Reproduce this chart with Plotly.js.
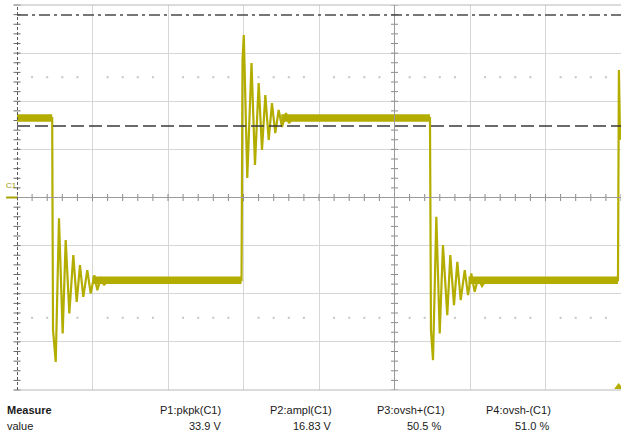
<!DOCTYPE html>
<html>
<head>
<meta charset="utf-8">
<script src="https://cdn.plot.ly/plotly-3.0.1.min.js"></script>
<style>html,body{margin:0;padding:0;background:#fff;}#chart{width:621px;height:434px;}</style>
</head>
<body>
<div id="chart"></div>
<script>
// ---- Data (time in divisions, voltage in V; 5 V/div) ----
const traceTime = [0, 0.466, 0.477, 0.513, 0.556, 0.605, 0.645, 0.693, 0.746, 0.791, 0.834, 0.878, 0.931, 0.976, 1.024, 1.064, 1.113, 1.152, 1.205,
  2.974, 2.987, 3.004, 3.050, 3.106, 3.152, 3.201, 3.245, 3.289, 3.334, 3.377, 3.421, 3.466, 3.510, 3.563, 3.603, 3.656,
  5.470, 5.483, 5.510, 5.554, 5.599, 5.642, 5.699, 5.739, 5.788, 5.832, 5.877, 5.930, 5.974, 6.017, 6.062, 6.106, 6.159, 6.212,
  7.960, 7.972, 7.988];
const traceVolts = [8.25, 8.25, -13.78, -17.08, -2.17, -14.13, -4.43, -12.05, -5.99, -10.84, -7.03, -10.32, -7.55, -9.97, -8.07, -9.63, -8.27, -9.11, -8.59,
  -8.59, 14.28, 16.88, 2.02, 13.97, 3.37, 11.89, 4.93, 10.64, 5.97, 9.81, 6.69, 9.09, 7.32, 8.77, 7.73, 8.25,
  8.25, -13.78, -16.90, -2.01, -14.13, -4.95, -12.22, -5.99, -11.19, -6.68, -10.67, -7.55, -10.15, -7.89, -9.80, -8.38, -9.21, -8.59,
  -8.59, 13.24, 6.0];
// steady (noisy) level bands
const bandStart = [0, 1.00, 3.50, 5.98];
const bandEnd = [0.466, 2.974, 5.470, 7.960];
const bandLevel = [8.25, -8.59, 8.25, -8.59];
// cursors
const cursorDashed = 7.42;
const cursorDashDot = 18.96;
// measurement table
const measHeaders = ["P1:pkpk(C1)", "P2:ampl(C1)", "P3:ovsh+(C1)", "P4:ovsh-(C1)"];
const measValues = ["33.9 V", "16.83 V", "50.5 %", "51.0 %"];

const olive = '#b3ad00';
const traces = [];

// minor ticks on center lines (decoration)
const hx = [], hy = [];
for (let i = 0; i <= 40; i++) { hx.push(i * 0.2); hy.push(0); }
traces.push({x: hx, y: hy, mode: 'markers', hoverinfo: 'skip',
  marker: {symbol: 'line-ns-open', size: 5, color: '#8a8a8a', line: {color: '#8a8a8a', width: 1}}});
const vx = [], vy = [];
for (let i = -20; i <= 20; i++) { vx.push(5); vy.push(i); }
traces.push({x: vx, y: vy, mode: 'markers', hoverinfo: 'skip',
  marker: {symbol: 'line-ew-open', size: 5, color: '#8a8a8a', line: {color: '#8a8a8a', width: 1}}});
const lx = [], ly = [];
for (let i = -20; i <= 20; i++) { lx.push(0); ly.push(i); }
traces.push({x: lx, y: ly, mode: 'markers', hoverinfo: 'skip', cliponaxis: false,
  marker: {symbol: 'line-ew-open', size: 5, color: '#6a6a6a', line: {color: '#6a6a6a', width: 1}}});
// dotted guide rows at +/-2.5 div
const dx = [], dy = [];
for (let i = 1; i < 40; i++) { if (i % 5) { dx.push(i * 0.2); dy.push(12.5); dx.push(i * 0.2); dy.push(-12.5); } }
traces.push({x: dx, y: dy, mode: 'markers', hoverinfo: 'skip',
  marker: {symbol: 'square', size: 2, color: '#c4c4c4'}});

// noisy bands
for (let i = 0; i < bandStart.length; i++) {
  traces.push({x: [bandStart[i], bandEnd[i]], y: [bandLevel[i], bandLevel[i]], mode: 'lines',
    line: {color: olive, width: 7.5}, hoverinfo: 'skip'});
}
// waveform
traces.push({x: traceTime, y: traceVolts, mode: 'lines', line: {color: olive, width: 2.2}, hoverinfo: 'skip'});
// trigger marker
traces.push({x: [7.97], y: [-19.7], mode: 'markers', cliponaxis: false, hoverinfo: 'skip',
  marker: {symbol: 'triangle-up', size: 8, color: olive}});

const annotations = [];
const hdrX = [0.3411, 0.5248, 0.7119, 0.8874];
const valX = [0.3411, 0.5248, 0.7053, 0.8841];
const txtFont = {family: 'Liberation Sans, Arial, sans-serif', size: 11, color: '#1a1a1a'};
annotations.push({xref: 'paper', yref: 'paper', x: -0.0199, y: -0.052, xanchor: 'left', yanchor: 'middle',
  text: '<b>Measure</b>', showarrow: false, font: txtFont});
annotations.push({xref: 'paper', yref: 'paper', x: -0.0199, y: -0.0935, xanchor: 'left', yanchor: 'middle',
  text: 'value', showarrow: false, font: txtFont});
for (let i = 0; i < measHeaders.length; i++) {
  annotations.push({xref: 'paper', yref: 'paper', x: hdrX[i], y: -0.052, xanchor: 'right', yanchor: 'middle',
    text: measHeaders[i], showarrow: false, font: txtFont});
  annotations.push({xref: 'paper', yref: 'paper', x: valX[i], y: -0.0935, xanchor: 'right', yanchor: 'middle',
    text: measValues[i], showarrow: false, font: txtFont});
}
annotations.push({xref: 'paper', yref: 'y', x: -0.0099, y: 1.2, xanchor: 'center', yanchor: 'middle',
  text: 'C1', showarrow: false, font: {family: 'Liberation Sans, Arial, sans-serif', size: 8, color: '#9a9400'}});

const shapes = [
  {type: 'line', xref: 'paper', yref: 'paper', x0: 0, x1: 1, y0: 1, y1: 1, line: {color: '#b8b8b8', width: 1}},
  {type: 'line', xref: 'paper', yref: 'paper', x0: 0, x1: 1, y0: 0, y1: 0, line: {color: '#b8b8b8', width: 1}},
  {type: 'line', xref: 'paper', yref: 'y', x0: 0, x1: 1, y0: 0, y1: 0, line: {color: '#9a9a9a', width: 1}},
  {type: 'line', xref: 'x', yref: 'paper', x0: 5, x1: 5, y0: 0, y1: 1, line: {color: '#9a9a9a', width: 1}},
  {type: 'line', xref: 'x', yref: 'paper', x0: 0, x1: 0, y0: 0, y1: 1, line: {color: '#5a5a5a', width: 2, dash: '3px,2px'}},
  {type: 'line', xref: 'paper', yref: 'y', x0: 0, x1: 1, y0: cursorDashed, y1: cursorDashed, line: {color: '#3a3a3a', width: 1.5, dash: '13px,5px'}},
  {type: 'line', xref: 'paper', yref: 'y', x0: 0, x1: 1, y0: cursorDashDot, y1: cursorDashDot, line: {color: '#4a4a4a', width: 1.5, dash: '11px,4px,3px,4px'}},
  {type: 'line', xref: 'paper', yref: 'y', x0: -0.018, x1: 0, y0: 0, y1: 0, line: {color: '#a8a200', width: 2}}
];

const axisCommon = {showgrid: true, gridcolor: '#d6d6d6', gridwidth: 1, zeroline: false, showticklabels: false,
  ticks: '', showline: false, fixedrange: true};
const layout = {
  width: 621, height: 434,
  margin: {l: 17, r: 0, t: 5, b: 44},
  paper_bgcolor: '#ffffff', plot_bgcolor: '#ffffff',
  showlegend: false,
  xaxis: Object.assign({range: [0, 8], dtick: 1, tick0: 0}, axisCommon),
  yaxis: Object.assign({range: [-20, 20], dtick: 5, tick0: 0}, axisCommon),
  shapes: shapes,
  annotations: annotations
};
Plotly.newPlot('chart', traces, layout, {displayModeBar: false, staticPlot: true});
</script>
</body>
</html>
